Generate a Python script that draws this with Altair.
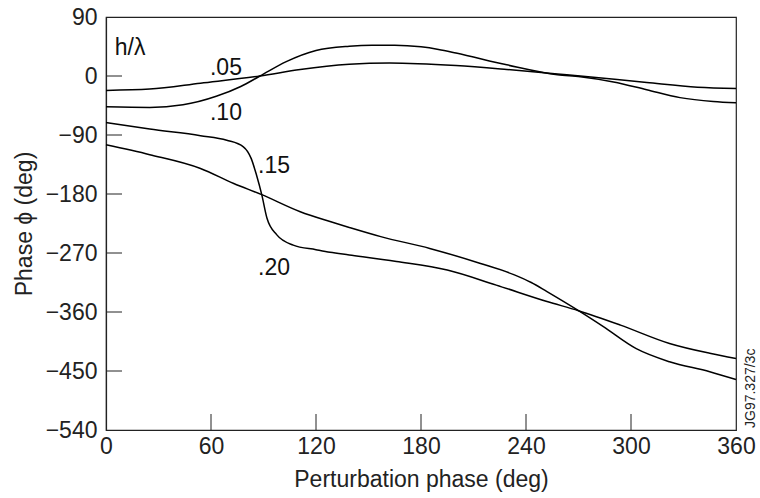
import altair as alt
import pandas as pd

FONT = "Liberation Sans"

# Series (x = perturbation phase, y = phase phi)
x_05 = [0, 25, 54, 88, 111, 139, 162, 200, 229, 258, 271, 309, 338, 360]
y_05 = [-22, -20, -11, 0, 10, 18, 20, 16, 10, 3, 0, -10, -17, -19]

x_10 = [0, 25, 44, 63, 77, 88, 103, 120, 139, 152, 165, 180, 190, 200, 229, 258, 271, 290, 309, 328, 347, 360]
y_10 = [-47, -48, -44, -31, -16, 0, 22, 39, 45.5, 47, 47, 44.5, 40.5, 35, 17, 2, -1, -9, -21, -33, -39, -41]

x_15 = [0, 25, 54, 69, 78.5, 83, 86, 89, 92, 97.5, 107, 120, 128, 139, 166, 195, 223, 252, 270, 294, 322, 345, 360]
y_15 = [-71, -81, -91, -98, -108, -126, -151, -181, -217, -242, -258, -265, -269, -273, -283, -296, -319, -344, -358, -380, -408, -423, -431]

x_20 = [0, 25, 54, 73, 89, 111, 128, 139, 157, 185, 214, 233, 243, 252, 270, 284, 303, 322, 345, 360]
y_20 = [-105, -120, -141, -164, -181, -207, -222, -231, -245, -263, -286, -303, -315, -329, -358, -382, -416, -436, -451, -463]

series_names = [".05", ".10", ".15", ".20"]

# Curve labels
label_text = ["h/λ", ".05", ".10", ".15", ".20"]
label_x = [5, 59.4, 59.4, 86.9, 86.9]
label_y = [32, 1.5, -67, -148, -303.5]

x_ticks = [0, 60, 120, 180, 240, 300, 360]
y_ticks = [90, 0, -90, -180, -270, -360, -450, -540]
x_inner_ticks = [60, 120, 180, 240, 300]
y_inner_ticks = [0, -90, -180, -270, -360, -450]

rows = []
for name, xs, ys in zip(series_names, [x_05, x_10, x_15, x_20], [y_05, y_10, y_15, y_20]):
    for a, b in zip(xs, ys):
        rows.append({"h": name, "x": a, "y": b})
df = pd.DataFrame(rows)

xscale = alt.Scale(domain=[0, 360], nice=False, zero=False)
yscale = alt.Scale(domain=[-540, 90], nice=False, zero=False)

XT = "Perturbation phase (deg)"
YT = "Phase ϕ (deg)"

xaxis = alt.Axis(
    values=x_ticks, title=XT, format="d",
    ticks=False, tickSize=0, labelPadding=5, titlePadding=10,
    labelFlush=False, labelOverlap=False, grid=False)
yaxis = alt.Axis(
    values=y_ticks, title=YT, format="d",
    labelExpr="datum.value < 0 ? '\u2212' + abs(datum.value) : '' + datum.value",
    ticks=False, tickSize=0, labelPadding=9, titlePadding=9,
    labelFlush=False, labelOverlap=False, grid=False)

lines = alt.Chart(df).mark_line(color="black", strokeWidth=1.5, interpolate="monotone").encode(
    x=alt.X("x:Q", scale=xscale, axis=xaxis, title=XT),
    y=alt.Y("y:Q", scale=yscale, axis=yaxis, title=YT),
    detail="h:N",
)

ldf = pd.DataFrame({"x": label_x, "y": label_y, "t": label_text})
labels = alt.Chart(ldf).mark_text(
    align="left", baseline="alphabetic", fontSize=23, font=FONT, color="#111"
).encode(
    x=alt.X("x:Q", scale=xscale, axis=xaxis, title=XT),
    y=alt.Y("y:Q", scale=yscale, axis=yaxis, title=YT),
    text="t:N",
)

ytdf = pd.DataFrame({"y": y_inner_ticks})
yticks = alt.Chart(ytdf).mark_rule(color="#222", strokeWidth=1).encode(
    y=alt.Y("y:Q", scale=yscale, axis=yaxis, title=YT),
    x=alt.value(0), x2=alt.value(16),
)

xtdf = pd.DataFrame({"x": x_inner_ticks})
xticks = alt.Chart(xtdf).mark_rule(color="#222", strokeWidth=1).encode(
    x=alt.X("x:Q", scale=xscale, axis=xaxis, title=XT),
    y=alt.value(413), y2=alt.value(397),
)

jdf = pd.DataFrame({"x": [360], "y": [-540], "t": ["JG97.327/3c"]})
jg = alt.Chart(jdf).mark_text(
    angle=270, align="left", baseline="alphabetic", dx=2, dy=19,
    fontSize=14, font=FONT, color="#222"
).encode(
    x=alt.X("x:Q", scale=xscale, axis=xaxis, title=XT),
    y=alt.Y("y:Q", scale=yscale, axis=yaxis, title=YT),
    text="t:N",
)

chart = alt.layer(lines, yticks, xticks, labels, jg).properties(
    width=630, height=413,
    autosize=alt.AutoSizeParams(type="none"),
    padding={"left": 106, "top": 17, "right": 24, "bottom": 68},
    background="white",
).configure_view(
    stroke="#222", strokeWidth=1.2
).configure_axis(
    domainColor="#222", domainWidth=1.2,
    labelFont=FONT, titleFont=FONT,
    labelFontSize=23, titleFontSize=23,
    labelColor="#222", titleColor="#222",
    titleFontWeight="normal",
)

chart.save("out.html", embed_options={"renderer": "svg", "actions": False})
